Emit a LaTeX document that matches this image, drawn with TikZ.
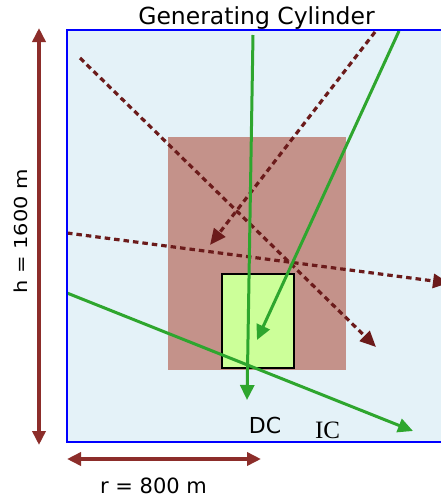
\documentclass[tikz,border=0pt]{standalone}
\usepackage{fontspec}
\setmainfont{DejaVu Sans}
\newfontfamily\icfont{Liberation Serif}
\usetikzlibrary{arrows.meta}
\definecolor{sky}{HTML}{E4F2F8}
\definecolor{clay}{HTML}{C4928A}
\definecolor{lime}{HTML}{CCFF99}
\definecolor{leaf}{HTML}{2EA62E}
\definecolor{wine}{HTML}{6B1B1B}
\definecolor{rust}{HTML}{8C2D2A}
\newcommand{\fsz}[1]{\fontsize{#1}{#1}\selectfont}
\tikzset{
  track/.style={leaf,line width=3pt,-{Triangle[length=15pt,width=14pt]}},
  ghost/.style={wine,line width=3.2pt,dash pattern=on 5.5pt off 4pt,-{Triangle[length=16pt,width=14pt]}},
  span/.style={rust,line width=3.5pt,{Triangle[length=14pt,width=13pt]}-{Triangle[length=14pt,width=13pt]}},
  lbl/.style={inner sep=0pt,anchor=base}
}
\begin{document}
\begin{tikzpicture}[x=1pt,y=-1pt]
\useasboundingbox (0,0) rectangle (441,498);
\fill[sky] (67,30) rectangle (470,442);
\fill[clay] (168,137) rectangle (346,370);
\filldraw[fill=lime,draw=black,line width=2.6pt] (222,274) rectangle (294,368);
% end points of the simulated tracks
\coordinate (a1) at (80,58);\coordinate (a2) at (376,347);
\coordinate (b1) at (375,32);\coordinate (b2) at (210,245);
\coordinate (c1) at (67,233);\coordinate (c2) at (449,283);
\coordinate (d1) at (253,35);\coordinate (d2) at (247,400);
\coordinate (e1) at (399,31);\coordinate (e2) at (257,340);
\coordinate (f1) at (67,293);\coordinate (f2) at (413,431);
\draw[ghost] (a1)--(a2);\draw[ghost] (b1)--(b2);\draw[ghost] (c1)--(c2);
\draw[track] (d1)--(d2);\draw[track] (e1)--(e2);\draw[track] (f1)--(f2);
\draw[blue,line width=2.8pt] (470,30)--(67,30)--(67,442)--(470,442);
% dimensions
\coordinate (htop) at (39,28);\coordinate (hbot) at (39,445);
\coordinate (rl) at (67,459);\coordinate (rr) at (261,459);
\draw[span] (hbot)--(htop);\draw[span] (rl)--(rr);
\node[lbl,rotate=90] (hlab) at (27.5,231.5) {\fsz{21}\scalebox{1.0}[0.85]{h = 1600 m}};
\node[lbl] (rlab) at (153.5,493) {\fsz{21}r = 800 m};
\node[lbl] (title) at (256.5,24) {\fsz{23.5}Generating Cylinder};
\node[lbl] (dc) at (265,433) {\fsz{22}DC};
\node[lbl] (ic) at (327.5,438) {\fsz{25}\icfont IC};
\end{tikzpicture}
\end{document}
